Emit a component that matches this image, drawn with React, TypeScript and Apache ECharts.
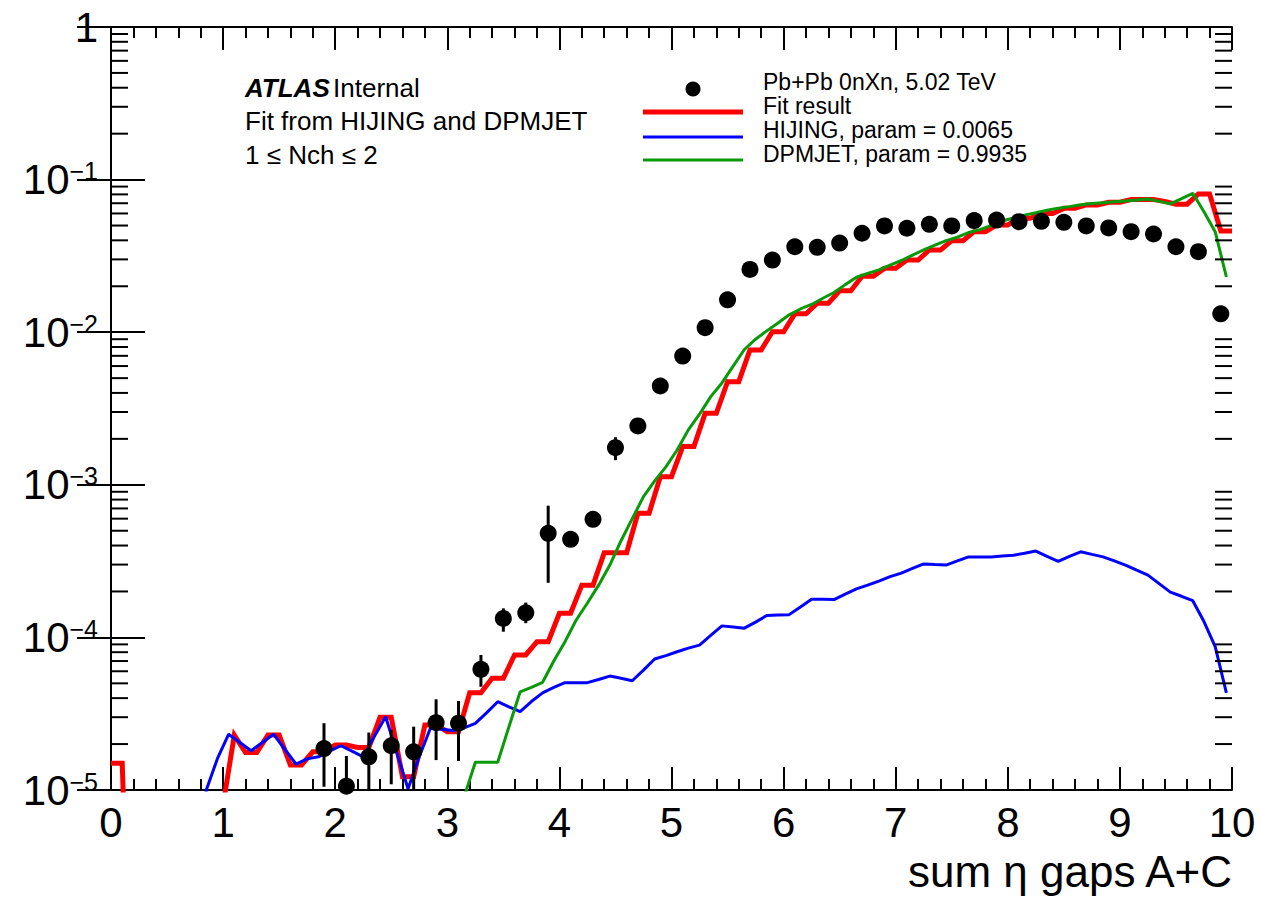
import React, { useEffect, useRef } from "react";
import * as echarts from "echarts";

// ---------- data ----------
// Pb+Pb data points (bin centres, values, error-bar ends where visible)
const dataX = [1.9, 2.1, 2.3, 2.5, 2.7, 2.9, 3.1, 3.3, 3.5, 3.7, 3.9, 4.1, 4.3, 4.5, 4.7, 4.9, 5.1, 5.3, 5.5, 5.7, 5.9, 6.1, 6.3, 6.5, 6.7, 6.9, 7.1, 7.3, 7.5, 7.7, 7.9, 8.1, 8.3, 8.5, 8.7, 8.9, 9.1, 9.3, 9.5, 9.7, 9.9];
const dataY = [1.87e-5, 1.06e-5, 1.65e-5, 1.95e-5, 1.78e-5, 2.76e-5, 2.74e-5, 6.18e-5, 1.33e-4, 1.45e-4, 4.81e-4, 4.39e-4, 5.94e-4, 1.75e-3, 2.43e-3, 4.44e-3, 6.98e-3, 1.07e-2, 1.63e-2, 2.58e-2, 2.97e-2, 3.63e-2, 3.6e-2, 3.84e-2, 4.45e-2, 4.97e-2, 4.8e-2, 5.09e-2, 4.97e-2, 5.39e-2, 5.43e-2, 5.3e-2, 5.33e-2, 5.25e-2, 4.97e-2, 4.82e-2, 4.56e-2, 4.4e-2, 3.63e-2, 3.37e-2, 1.32e-2];
const errLow = [1.05e-5, 4e-6, 8e-6, 1.09e-5, 8e-6, 1.57e-5, 1.55e-5, 4.75e-5, 1.09e-4, 1.24e-4, 2.28e-4, 4.1e-4, 5.6e-4, 1.45e-3, 2.25e-3, 4.25e-3, 6.75e-3, null, null, null, null, null, null, null, null, null, null, null, null, null, null, null, null, null, null, null, null, null, null, null, null];
const errHigh = [2.74e-5, 1.67e-5, 2.38e-5, 2.47e-5, 2.6e-5, 3.93e-5, 3.83e-5, 7.67e-5, 1.55e-4, 1.69e-4, 7.3e-4, 4.7e-4, 6.3e-4, 2.05e-3, 2.62e-3, 4.64e-3, 7.2e-3, null, null, null, null, null, null, null, null, null, null, null, null, null, null, null, null, null, null, null, null, null, null, null, null];

// Fit result, vertices every 0.1 from 0 to 10
const fitValues = [1.5e-5, 1.5e-5, 1e-7, 1e-7, 1e-7, 1e-7, 1e-7, 1e-7, 1e-7, 1e-6, 8e-6, 2.29e-5, 1.76e-5, 1.76e-5, 2.29e-5, 2.29e-5, 1.46e-5, 1.46e-5, 1.78e-5, 1.78e-5, 1.97e-5, 1.97e-5, 1.9e-5, 1.9e-5, 3.0e-5, 3.0e-5, 1.22e-5, 1.22e-5, 2.67e-5, 2.67e-5, 2.41e-5, 2.41e-5, 4.33e-5, 4.33e-5, 5.4e-5, 5.4e-5, 7.67e-5, 7.67e-5, 9.38e-5, 9.38e-5, 1.44e-4, 1.44e-4, 2.2e-4, 2.2e-4, 3.59e-4, 3.59e-4, 3.59e-4, 6.5e-4, 6.5e-4, 1.13e-3, 1.13e-3, 1.78e-3, 1.78e-3, 2.94e-3, 2.94e-3, 4.74e-3, 4.74e-3, 7.64e-3, 7.64e-3, 1.007e-2, 1.007e-2, 1.32e-2, 1.32e-2, 1.55e-2, 1.55e-2, 1.87e-2, 1.87e-2, 2.33e-2, 2.33e-2, 2.62e-2, 2.62e-2, 2.97e-2, 2.97e-2, 3.46e-2, 3.46e-2, 3.98e-2, 3.98e-2, 4.56e-2, 4.56e-2, 5.04e-2, 5.04e-2, 5.58e-2, 5.58e-2, 6.0e-2, 6.0e-2, 6.48e-2, 6.48e-2, 6.82e-2, 6.82e-2, 7.1e-2, 7.1e-2, 7.4e-2, 7.4e-2, 7.4e-2, 7.2e-2, 6.9e-2, 6.9e-2, 8.05e-2, 8.05e-2, 4.6e-2, 4.6e-2];

// HIJING template, bin centres 0.05 .. 9.95
const hijingValues = [1e-7, 1e-7, 1e-7, 1e-7, 1e-7, 1e-7, 1e-7, 1e-6, 1.0e-5, 1.61e-5, 2.32e-5, 2.05e-5, 1.81e-5, 2.05e-5, 2.32e-5, 1.85e-5, 1.48e-5, 1.6e-5, 1.65e-5, 1.8e-5, 1.95e-5, 1.8e-5, 1.65e-5, 2.25e-5, 3.02e-5, 1.75e-5, 1.02e-5, 1.65e-5, 2.55e-5, 2.5e-5, 2.45e-5, 2.55e-5, 2.73e-5, 3.2e-5, 3.79e-5, 3.5e-5, 3.26e-5, 3.8e-5, 4.33e-5, 4.7e-5, 5.05e-5, 5.05e-5, 5.05e-5, 5.3e-5, 5.58e-5, 5.4e-5, 5.2e-5, 6.1e-5, 7.22e-5, 7.6e-5, 8.05e-5, 8.5e-5, 8.9e-5, 1.03e-4, 1.19e-4, 1.17e-4, 1.15e-4, 1.26e-4, 1.39e-4, 1.4e-4, 1.41e-4, 1.58e-4, 1.78e-4, 1.78e-4, 1.77e-4, 1.92e-4, 2.08e-4, 2.2e-4, 2.34e-4, 2.5e-4, 2.64e-4, 2.83e-4, 3.03e-4, 3.0e-4, 2.98e-4, 3.17e-4, 3.37e-4, 3.37e-4, 3.37e-4, 3.41e-4, 3.45e-4, 3.56e-4, 3.68e-4, 3.4e-4, 3.15e-4, 3.4e-4, 3.64e-4, 3.5e-4, 3.37e-4, 3.17e-4, 2.98e-4, 2.76e-4, 2.56e-4, 2.25e-4, 1.98e-4, 1.86e-4, 1.74e-4, 1.27e-4, 8.7e-5, 4.33e-5];

// DPMJET template, bin centres 0.05 .. 9.95
const dpmjetValues = [1e-7, 1e-7, 1e-7, 1e-7, 1e-7, 1e-7, 1e-7, 1e-7, 1e-7, 1e-7, 1e-7, 1e-7, 1e-7, 1e-7, 1e-7, 1e-7, 1e-7, 1e-7, 1e-7, 1e-7, 1e-7, 1e-7, 1e-7, 1e-7, 1e-7, 1e-7, 1e-7, 1e-7, 1e-7, 1e-7, 1e-7, 9e-6, 1.52e-5, 1.52e-5, 1.52e-5, 2.6e-5, 4.4e-5, 4.7e-5, 5.08e-5, 7.0e-5, 9.38e-5, 1.3e-4, 1.68e-4, 2.2e-4, 2.98e-4, 4.3e-4, 6.0e-4, 8.36e-4, 1.06e-3, 1.31e-3, 1.69e-3, 2.29e-3, 2.9e-3, 3.78e-3, 4.65e-3, 6.0e-3, 7.7e-3, 9.0e-3, 1.02e-2, 1.15e-2, 1.3e-2, 1.42e-2, 1.52e-2, 1.67e-2, 1.82e-2, 2.05e-2, 2.29e-2, 2.43e-2, 2.56e-2, 2.75e-2, 2.95e-2, 3.2e-2, 3.46e-2, 3.72e-2, 3.98e-2, 4.2e-2, 4.5e-2, 4.7e-2, 5.0e-2, 5.35e-2, 5.6e-2, 5.85e-2, 6.07e-2, 6.3e-2, 6.5e-2, 6.65e-2, 6.85e-2, 6.97e-2, 7.05e-2, 7.15e-2, 7.25e-2, 7.35e-2, 7.46e-2, 7.2e-2, 6.93e-2, 7.5e-2, 8.13e-2, 6.16e-2, 4.56e-2, 2.3e-2];

const legendLabels = ["Pb+Pb 0nXn, 5.02 TeV", "Fit result", "HIJING, param = 0.0065", "DPMJET, param = 0.9935"];
const infoLines = ["Fit from HIJING and DPMJET", "1 \u2264 Nch \u2264 2"];
const xTitle = "sum \u03b7 gaps A+C";

// ---------- helpers ----------
const FONT = "'Liberation Sans', Arial, Helvetica, sans-serif";
const fitX = fitValues.map((_, i) => +(i * 0.1).toFixed(2));
const tmplX = hijingValues.map((_, i) => +(0.05 + i * 0.1).toFixed(2));

const minorTickValues: number[] = [];
for (let e = -5; e < 0; e++) {
  for (let m = 2; m <= 9; m++) minorTickValues.push(m * Math.pow(10, e));
}

export default function App() {
  const ref = useRef<HTMLDivElement>(null);
  useEffect(() => {
    if (!ref.current) return;
    const chart = echarts.init(ref.current, undefined, { renderer: "svg" });

    const errData = dataX
      .map((x, i) => [x, errLow[i], errHigh[i]])
      .filter((d) => d[1] != null && d[2] != null);

    const common = {
      axisLine: { show: true, lineStyle: { color: "#000", width: 2 } },
      splitLine: { show: false },
    };

    const xBase = {
      type: "value",
      min: 0,
      max: 10,
      interval: 1,
      ...common,
      axisTick: { show: true, inside: true, length: 23, lineStyle: { color: "#000", width: 2 } },
      minorTick: { show: true, splitNumber: 5, length: 11, lineStyle: { color: "#000", width: 2 } },
    };
    const yBase = {
      type: "log",
      logBase: 10,
      min: 1e-5,
      max: 1,
      splitNumber: 5,
      ...common,
      axisTick: { show: true, inside: true, length: 34, lineStyle: { color: "#000", width: 2 } },
      minorTick: { show: false },
    };

    const legendRows = [82, 106, 130, 154];

    const option: any = {
      animation: false,
      backgroundColor: "#fff",
      grid: { left: 111, right: 29, top: 27, bottom: 131, containLabel: false },
      xAxis: [
        {
          ...xBase,
          position: "bottom",
          axisLabel: {
            show: true,
            color: "#000",
            fontSize: 42,
            fontFamily: FONT,
            margin: 11,
            showMinLabel: true,
            showMaxLabel: true,
          },
        },
        { ...xBase, position: "top", axisLabel: { show: false } },
      ],
      yAxis: [
        {
          ...yBase,
          position: "left",
          axisLabel: {
            show: true,
            margin: 13,
            color: "#000",
            fontSize: 42,
            fontFamily: FONT,
            showMinLabel: true,
            showMaxLabel: true,
            formatter: (v: number) => {
              const e = Math.round(Math.log10(v));
              if (e === 0) return "1";
              return "{b|10}{s|\u2212" + -e + "}";
            },
            rich: {
              b: { fontSize: 42, lineHeight: 42, color: "#000", fontFamily: FONT },
              s: { fontSize: 25, lineHeight: 25, color: "#000", fontFamily: FONT, verticalAlign: "top" },
            },
          },
        },
        { ...yBase, position: "right", axisLabel: { show: false } },
      ],
      graphic: [
        {
          type: "text",
          x: 245,
          y: 88,
          style: {
            text: "{a|ATLAS} {b|Internal}",
            verticalAlign: "middle",
            rich: {
              a: { fontSize: 26, fontWeight: "bold", fontStyle: "italic", fontFamily: FONT, fill: "#000" },
              b: { fontSize: 26, fontFamily: FONT, fill: "#000" },
            },
          },
        },
        {
          type: "text",
          x: 245,
          y: 121,
          style: { text: infoLines[0], fontSize: 26, fontFamily: FONT, fill: "#000", verticalAlign: "middle" },
        },
        {
          type: "text",
          x: 245,
          y: 155,
          style: { text: infoLines[1], fontSize: 26, fontFamily: FONT, fill: "#000", verticalAlign: "middle" },
        },
        // legend
        { type: "circle", shape: { cx: 693, cy: 89, r: 7.5 }, style: { fill: "#000" } },
        { type: "line", shape: { x1: 643, y1: 112, x2: 743, y2: 112 }, style: { stroke: "#ff0000", lineWidth: 5 } },
        { type: "line", shape: { x1: 643, y1: 137, x2: 743, y2: 137 }, style: { stroke: "#0000ff", lineWidth: 3 } },
        { type: "line", shape: { x1: 643, y1: 160, x2: 743, y2: 160 }, style: { stroke: "#089a08", lineWidth: 3 } },
        ...legendLabels.map((t, i) => ({
          type: "text",
          x: 763,
          y: legendRows[i],
          style: {
            text: t,
            fontSize: 23,
            lineHeight: 23,
            fontFamily: FONT,
            fill: "#000",
            verticalAlign: "middle",
          },
        })),
        {
          type: "text",
          x: 1232,
          y: 871,
          style: { text: xTitle, fontSize: 44, fontFamily: FONT, fill: "#000", align: "right", verticalAlign: "middle" },
        },
      ],
      series: [
        {
          type: "line",
          name: "Fit result",
          data: fitX.map((x, i) => [x, fitValues[i]]),
          symbol: "none",
          clip: true,
          lineStyle: { color: "#ff0000", width: 5, join: "miter" },
          z: 2,
        },
        {
          type: "line",
          name: "HIJING",
          data: tmplX.map((x, i) => [x, hijingValues[i]]),
          symbol: "none",
          clip: true,
          lineStyle: { color: "#0000ff", width: 3 },
          z: 3,
        },
        {
          type: "line",
          name: "DPMJET",
          data: tmplX.map((x, i) => [x, dpmjetValues[i]]),
          symbol: "none",
          clip: true,
          lineStyle: { color: "#089a08", width: 3 },
          z: 3,
        },
        {
          type: "custom",
          name: "errors",
          data: errData,
          encode: { x: 0, y: [1, 2] },
          z: 4,
          silent: true,
          renderItem: (params: any, api: any) => {
            const x = api.value(0);
            const p0 = api.coord([x, api.value(1)]);
            const p1 = api.coord([x, api.value(2)]);
            const cs = params.coordSys;
            const bottom = cs.y + cs.height;
            return {
              type: "line",
              shape: { x1: p0[0], y1: Math.min(p0[1], bottom), x2: p1[0], y2: Math.max(p1[1], cs.y) },
              style: { stroke: "#000", lineWidth: 3 },
            };
          },
        },
        {
          type: "scatter",
          name: "data",
          data: dataX.map((x, i) => [x, dataY[i]]),
          symbol: "circle",
          symbolSize: 17,
          itemStyle: { color: "#000", opacity: 1 },
          z: 5,
        },
        {
          type: "custom",
          name: "minorTicks",
          data: minorTickValues.map((v) => [0, v]),
          encode: { x: 0, y: 1 },
          silent: true,
          z: 6,
          renderItem: (params: any, api: any) => {
            const p = api.coord([0, api.value(1)]);
            const cs = params.coordSys;
            const L = 17;
            return {
              type: "group",
              children: [
                { type: "line", shape: { x1: cs.x, y1: p[1], x2: cs.x + L, y2: p[1] }, style: { stroke: "#000", lineWidth: 2 } },
                { type: "line", shape: { x1: cs.x + cs.width - L, y1: p[1], x2: cs.x + cs.width, y2: p[1] }, style: { stroke: "#000", lineWidth: 2 } },
              ],
            };
          },
        },
      ],
    };
    chart.setOption(option);
    return () => chart.dispose();
  }, []);
  return <div ref={ref} style={{ position: "absolute", left: 0, top: 0, width: 1261, height: 921 }} />;
}
